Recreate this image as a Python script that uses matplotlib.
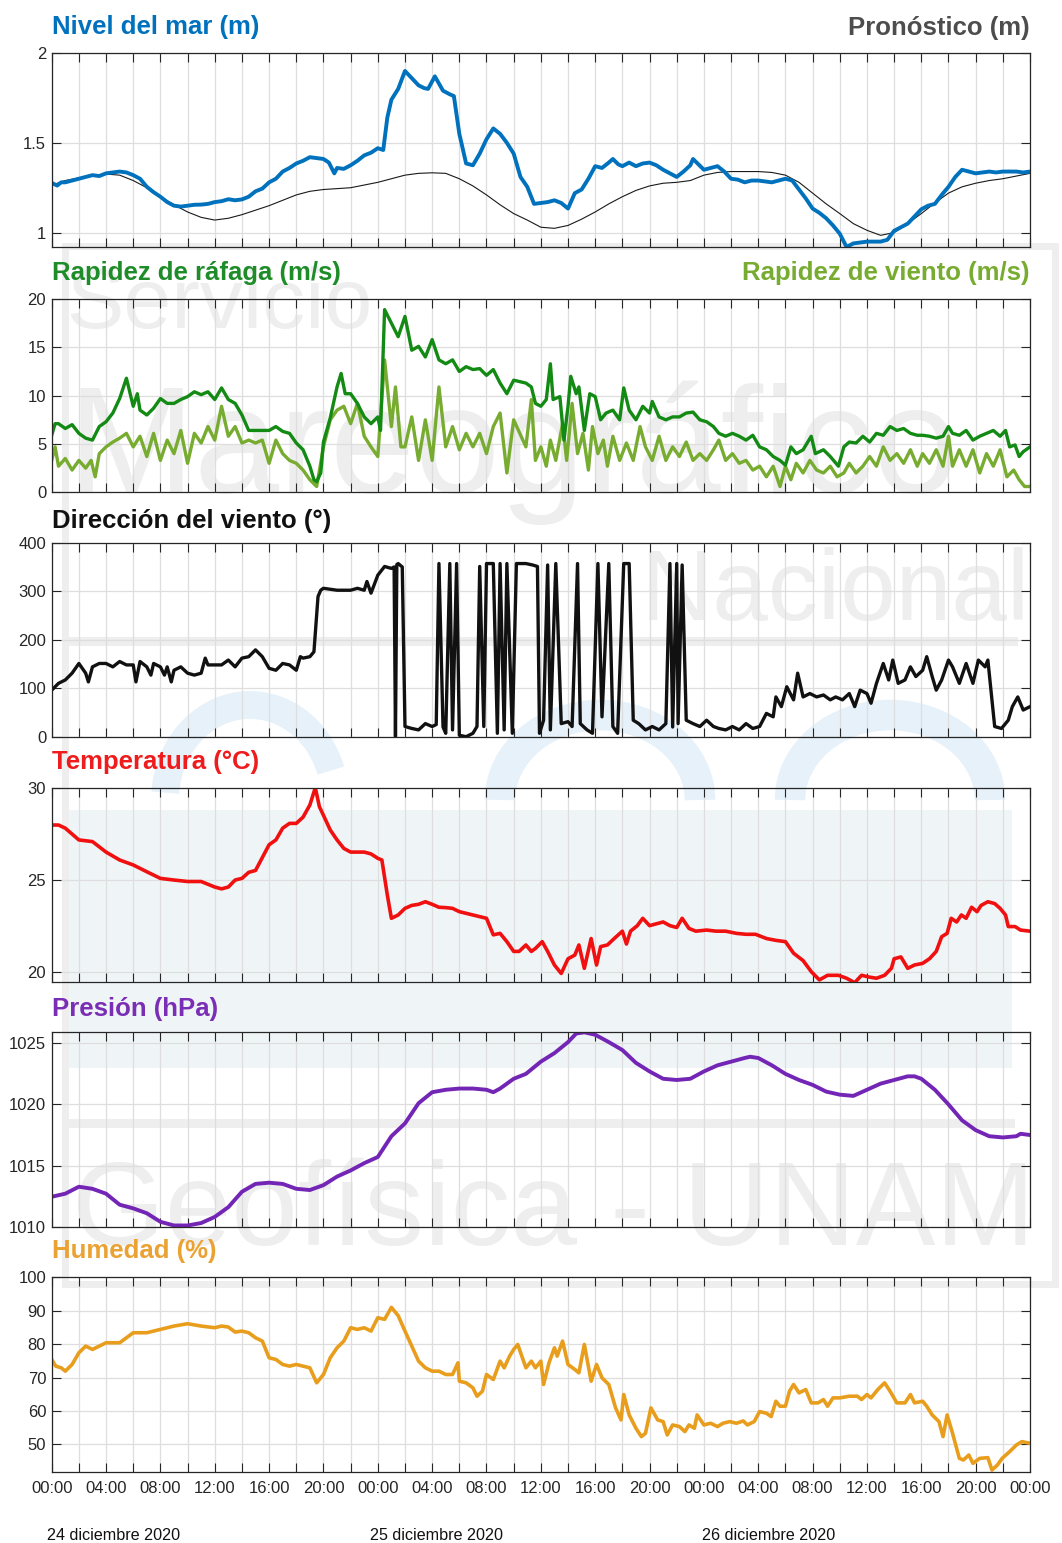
import matplotlib
matplotlib.use("Agg")
import matplotlib.pyplot as plt
import matplotlib.transforms as mtransforms
from matplotlib.patches import Rectangle, Arc

plt.rcParams['font.family'] = ['Liberation Sans', 'DejaVu Sans']

# hours since 24-dic-2020 00:00
nivel_t = [0, 0.4, 0.7, 1, 1.5, 2, 2.5, 3, 3.5, 4, 4.5, 5, 5.5, 6, 6.5, 7, 7.5, 8, 8.5, 9, 9.5, 10, 10.5, 11,
           11.5, 12, 12.5, 13, 13.5, 14, 14.5, 15, 15.5, 16, 16.5, 17, 17.5, 18, 18.5, 19, 19.5, 20, 20.4,
           20.8, 21, 21.5, 22, 22.5, 23, 23.5, 24, 24.4, 24.7, 25, 25.5, 26, 26.5, 27, 27.4, 27.7, 28.2, 28.8,
           29.3, 29.6, 30, 30.5, 31, 31.5, 32, 32.5, 33, 33.5, 34, 34.5, 35, 35.5, 36, 36.5, 37, 37.5, 38,
           38.5, 39, 39.5, 40, 40.5, 41, 41.3, 41.7, 42, 42.5, 43, 43.5, 44, 44.5, 45, 45.5, 46, 46.5, 47, 47.2,
           47.6, 48, 48.5, 49, 49.5, 50, 50.5, 51, 51.5, 52, 52.5, 53, 53.5, 54, 54.5, 55, 55.5, 56, 56.5, 57,
           57.5, 58, 58.5, 59, 59.5, 60, 60.5, 61, 61.5, 62, 62.5, 63, 63.5, 64, 64.5, 65, 65.5, 66, 66.5, 67,
           67.5, 68, 68.5, 69, 69.5, 70, 70.5, 71, 71.5, 72]
nivel_v = [1.277, 1.262, 1.28, 1.28, 1.29, 1.30, 1.31, 1.32, 1.315, 1.33, 1.335, 1.34, 1.335, 1.32, 1.30, 1.255,
           1.225, 1.20, 1.17, 1.15, 1.145, 1.15, 1.155, 1.156, 1.16, 1.17, 1.175, 1.186, 1.18, 1.185, 1.20,
           1.23, 1.245, 1.28, 1.30, 1.34, 1.36, 1.385, 1.40, 1.42, 1.415, 1.41, 1.39, 1.33, 1.36, 1.355, 1.375,
           1.40, 1.43, 1.445, 1.47, 1.46, 1.64, 1.74, 1.80, 1.90, 1.86, 1.82, 1.805, 1.80, 1.87, 1.79, 1.77,
           1.76, 1.55, 1.385, 1.375, 1.44, 1.52, 1.58, 1.55, 1.50, 1.44, 1.31, 1.255, 1.16, 1.165, 1.17, 1.18,
           1.165, 1.134, 1.22, 1.24, 1.30, 1.37, 1.36, 1.39, 1.41, 1.38, 1.37, 1.39, 1.37, 1.385, 1.39, 1.375,
           1.35, 1.33, 1.31, 1.34, 1.375, 1.41, 1.38, 1.35, 1.36, 1.37, 1.34, 1.30, 1.295, 1.28, 1.29, 1.29,
           1.285, 1.28, 1.29, 1.30, 1.29, 1.24, 1.19, 1.134, 1.11, 1.08, 1.04, 0.994, 0.92, 0.94, 0.945, 0.95,
           0.95, 0.95, 0.96, 1.01, 1.03, 1.05, 1.09, 1.13, 1.15, 1.16, 1.21, 1.255, 1.31, 1.35, 1.34, 1.33,
           1.335, 1.34, 1.335, 1.34, 1.34, 1.34, 1.335, 1.34]

pron_t = [0, 1, 2, 3, 4, 5, 6, 7, 8, 9, 10, 11, 12, 13, 14, 15, 16, 17, 18, 19, 20, 21, 22, 23, 24, 25, 26, 27,
          28, 29, 30, 31, 32, 33, 34, 35, 36, 37, 38, 39, 40, 41, 42, 43, 44, 45, 46, 47, 48, 49, 50, 51, 52,
          53, 54, 55, 56, 57, 58, 59, 60, 61, 62, 63, 64, 65, 66, 67, 68, 69, 70, 71, 72]
pron_v = [1.264, 1.29, 1.305, 1.32, 1.326, 1.32, 1.29, 1.25, 1.20, 1.155, 1.115, 1.085, 1.07, 1.08, 1.10, 1.125,
          1.15, 1.18, 1.21, 1.23, 1.24, 1.245, 1.25, 1.265, 1.28, 1.30, 1.32, 1.33, 1.333, 1.33, 1.30, 1.26,
          1.21, 1.155, 1.106, 1.07, 1.03, 1.024, 1.04, 1.075, 1.115, 1.16, 1.20, 1.235, 1.26, 1.275, 1.28, 1.29,
          1.32, 1.335, 1.34, 1.34, 1.34, 1.335, 1.32, 1.28, 1.22, 1.16, 1.106, 1.05, 1.013, 0.985, 1.0, 1.05,
          1.106, 1.165, 1.22, 1.255, 1.275, 1.29, 1.30, 1.315, 1.33]

rafaga_t = [0, 0.25, 0.5, 1, 1.5, 2, 2.5, 3, 3.5, 4, 4.5, 5, 5.5, 6, 6.3, 6.5, 7, 7.5, 8, 8.5, 9, 9.5, 10,
            10.5, 11, 11.5, 12, 12.5, 13, 13.5, 14, 14.5, 15, 16, 16.5, 17, 17.5, 18, 18.5, 19, 19.3, 19.5,
            19.8, 20, 20.5, 21, 21.3, 21.6, 22, 22.5, 23, 23.5, 24, 24.2, 24.5, 25, 25.5, 26, 26.5, 27, 27.5,
            28, 28.5, 29, 29.5, 30, 30.5, 31, 31.5, 32, 32.5, 33, 33.5, 34, 34.9, 35.3, 35.6, 36, 36.4, 36.7,
            36.9, 37.4, 37.7, 38, 38.2, 38.6, 38.8, 39.2, 39.6, 40, 40.4, 40.8, 41.3, 41.8, 42.1, 42.5, 43,
            43.5, 44, 44.2, 44.7, 45.2, 45.7, 46.2, 46.7, 47.2, 47.7, 48.2, 48.7, 49.1, 49.6, 50.1, 50.6, 51.1,
            51.6, 52.1, 52.6, 53.1, 53.6, 54, 54.4, 54.8, 55.3, 55.9, 56.2, 56.8, 57.3, 57.9, 58.3, 58.7, 59.2,
            59.7, 60.2, 60.7, 61.2, 61.7, 62.2, 62.7, 63.2, 63.7, 64.1, 64.6, 65.1, 65.6, 66, 66.3, 66.8, 67.3,
            67.8, 68.3, 68.8, 69.3, 69.8, 70.2, 70.5, 70.9, 71.2, 71.5, 72]
rafaga_v = [5.9, 7.1, 7.1, 6.6, 7.0, 6.1, 5.6, 5.4, 6.8, 7.3, 8.2, 9.7, 11.8, 8.9, 10.2, 8.5, 8.0, 8.7, 9.7,
            9.2, 9.2, 9.6, 9.9, 10.4, 10.1, 10.4, 9.6, 10.8, 9.6, 9.2, 8.0, 6.4, 6.4, 6.4, 6.8, 6.3, 6.1, 5.1,
            4.4, 2.7, 1.3, 1.1, 2.0, 5.2, 7.7, 10.9, 12.3, 10.2, 10.2, 9.2, 7.8, 7.1, 7.8, 6.4, 18.9, 17.5, 16.1,
            18.2, 14.7, 15.1, 14.0, 15.8, 13.7, 13.3, 13.7, 12.5, 13.0, 12.7, 12.8, 12.1, 12.7, 11.3, 10.2, 11.6,
            11.3, 10.9, 9.2, 8.9, 9.6, 13.3, 9.6, 9.9, 5.4, 8.9, 12.0, 10.2, 10.9, 6.4, 10.2, 9.9, 7.5, 8.2, 8.5,
            7.5, 10.8, 8.5, 7.5, 8.9, 8.2, 9.4, 7.8, 7.5, 7.8, 7.8, 8.2, 8.3, 7.5, 7.3, 6.8, 6.1, 5.8, 6.1, 5.8,
            5.4, 5.9, 4.7, 4.4, 3.7, 3.3, 2.8, 4.7, 4.0, 4.4, 5.8, 4.0, 4.4, 3.7, 2.7, 4.7, 5.2, 5.1, 5.8, 5.2,
            6.1, 5.9, 6.8, 6.4, 6.6, 6.1, 5.9, 5.9, 5.8, 5.6, 5.8, 6.8, 6.1, 5.9, 6.4, 5.4, 5.8, 6.1, 6.4, 5.8,
            6.4, 4.7, 4.9, 3.7, 4.2, 4.7]

viento_t = [0, 0.25, 0.5, 1, 1.5, 2, 2.5, 2.9, 3.2, 3.5, 4, 4.5, 5, 5.5, 6, 6.5, 7, 7.5, 8, 8.5, 9, 9.5, 10,
            10.5, 11, 11.5, 12, 12.5, 13, 13.5, 14, 14.5, 15, 15.5, 16, 16.5, 17, 17.5, 18, 18.5, 19, 19.5, 20,
            20.5, 21, 21.5, 22, 22.5, 23, 23.5, 24, 24.5, 25, 25.3, 25.7, 26, 26.5, 27, 27.5, 28, 28.5, 29,
            29.5, 30, 30.5, 31, 31.5, 32, 32.5, 33, 33.5, 34, 34.9, 35.3, 35.6, 36, 36.4, 36.7, 37.1, 37.6,
            37.9, 38.3, 38.7, 39.1, 39.5, 39.8, 40.2, 40.6, 40.9, 41.3, 41.8, 42.3, 42.8, 43.3, 43.7, 44.2,
            44.7, 45.2, 45.7, 46.2, 46.7, 47.2, 47.7, 48.2, 48.7, 49.1, 49.6, 50.1, 50.6, 51.1, 51.6, 52.1,
            52.6, 53.1, 53.6, 54, 54.4, 54.8, 55.3, 55.8, 56.3, 56.8, 57.3, 57.8, 58.3, 58.7, 59.2, 59.7,
            60.2, 60.7, 61.2, 61.7, 62.2, 62.7, 63.2, 63.7, 64.1, 64.6, 65.1, 65.6, 66, 66.3, 66.8, 67.3, 67.8,
            68.3, 68.8, 69.3, 69.8, 70.3, 70.8, 71.2, 71.6, 72]
viento_v = [3.3, 4.7, 2.7, 3.5, 2.3, 3.3, 2.5, 3.3, 1.6, 4.0, 4.7, 5.2, 5.6, 6.1, 4.7, 5.8, 3.7, 6.1, 3.3, 5.4,
            4.0, 6.4, 3.0, 6.1, 5.1, 6.8, 5.4, 8.9, 5.8, 6.8, 5.1, 5.4, 5.1, 5.4, 3.0, 5.4, 4.0, 3.3, 3.0, 2.3,
            1.3, 0.6, 4.7, 7.5, 8.5, 8.9, 7.1, 9.2, 5.8, 4.7, 3.7, 13.7, 6.8, 10.9, 4.7, 4.7, 7.8, 3.3, 7.5, 3.3,
            10.9, 4.7, 6.8, 4.4, 6.1, 4.7, 6.1, 4.0, 6.8, 8.2, 2.0, 7.5, 4.7, 9.6, 3.3, 4.7, 2.7, 5.4, 3.3, 7.1,
            3.3, 9.2, 4.0, 6.1, 2.3, 6.8, 4.0, 5.4, 2.7, 5.8, 3.3, 5.1, 3.3, 6.8, 4.7, 3.3, 5.8, 3.3, 4.7, 3.7,
            5.2, 3.3, 4.0, 3.3, 4.4, 5.4, 3.3, 4.0, 3.0, 3.3, 2.3, 2.7, 1.6, 2.7, 0.6, 2.7, 1.3, 3.0, 2.0, 3.3,
            2.3, 2.0, 2.7, 1.6, 2.0, 3.0, 2.0, 2.7, 3.7, 2.7, 4.7, 3.3, 4.0, 3.0, 4.4, 2.7, 4.0, 3.0, 4.4, 2.7,
            5.8, 2.7, 4.4, 2.7, 4.4, 2.0, 4.0, 2.7, 4.4, 1.6, 2.3, 1.3, 0.6, 0.6]

dir_t = [0, 0.5, 1, 1.5, 2, 2.5, 2.7, 3, 3.5, 4, 4.5, 5, 5.5, 6, 6.2, 6.5, 7, 7.3, 7.5, 8, 8.3, 8.5, 8.8, 9,
         9.5, 10, 10.5, 11, 11.3, 11.5, 12, 12.5, 13, 13.5, 14, 14.5, 15, 15.5, 16, 16.5, 17, 17.5, 18, 18.3,
         18.5, 19, 19.3, 19.6, 19.8, 20, 21, 22, 22.5, 23, 23.2, 23.5, 24, 24.5, 25, 25.2, 25.3, 25.4, 25.5,
         25.8, 26, 26.5, 27, 27.5, 28, 28.3, 28.5, 28.8, 29, 29.3, 29.5, 29.8, 30, 30.5, 31, 31.3, 31.5, 31.8,
         32, 32.5, 32.8, 33, 33.3, 33.5, 33.9, 34.2, 34.9, 35.4, 35.75, 35.9, 36.2, 36.5, 36.7, 37.1, 37.5,
         38, 38.3, 38.7, 38.9, 39.4, 39.8, 40.2, 40.5, 41, 41.3, 41.65, 42.1, 42.5, 42.8, 43.2, 43.7, 44.2,
         44.7, 45.2, 45.5, 45.7, 46.0, 46.1, 46.4, 46.7, 47.2, 47.7, 48.2, 48.7, 49.1, 49.6, 50.1, 50.6, 51.1,
         51.6, 52.1, 52.6, 53.1, 53.3, 53.7, 54.1, 54.6, 54.9, 55.3, 55.8, 56.3, 56.8, 57.3, 57.7, 58.2, 58.7,
         59.1, 59.5, 60, 60.3, 60.7, 61.2, 61.6, 61.9, 62.3, 62.8, 63.2, 63.6, 64.1, 64.4, 64.8, 65.1, 65.5,
         66, 66.3, 66.8, 67.3, 67.8, 68.2, 68.7, 68.9, 69.4, 69.9, 70.4, 70.7, 71.1, 71.5, 72]
dir_v = [96, 110, 117, 131, 151, 131, 113, 144, 151, 151, 144, 155, 148, 148, 113, 155, 144, 127, 151, 144, 127,
         144, 113, 137, 144, 131, 127, 131, 162, 148, 148, 148, 158, 144, 162, 165, 179, 165, 141, 137, 151, 148,
         137, 165, 162, 165, 175, 289, 302, 306, 302, 302, 306, 302, 320, 296, 333, 351, 347, 350, 0, 355, 357,
         350, 21, 17, 14, 27, 21, 25, 357, 20, 7, 357, 14, 357, 3, 0, 7, 21, 351, 21, 357, 357, 7, 357, 14, 357,
         7, 357, 357, 354, 351, 7, 34, 354, 14, 357, 27, 31, 21, 357, 27, 14, 7, 357, 41, 357, 21, 7, 357, 357,
         34, 27, 14, 21, 14, 27, 357, 20, 357, 27, 354, 34, 27, 21, 34, 21, 17, 14, 21, 14, 27, 17, 21, 48, 41,
         82, 62, 103, 76, 131, 82, 89, 82, 86, 76, 82, 76, 89, 62, 96, 89, 69, 110, 151, 117, 158, 110, 117, 144,
         124, 137, 165, 124, 96, 117, 158, 144, 110, 151, 110, 158, 144, 158, 21, 17, 34, 62, 82, 55, 62]

temp_t = [0, 0.5, 1, 2, 3, 4, 5, 6, 7, 8, 9, 10, 11, 12, 12.5, 13, 13.5, 14, 14.5, 15, 15.5, 16, 16.5, 17,
          17.5, 18, 18.5, 19, 19.4, 19.7, 20, 20.5, 21, 21.5, 22, 22.5, 23, 23.5, 24, 24.3, 24.7, 25, 25.5,
          26, 26.5, 27, 27.5, 28, 28.5, 29, 29.5, 30, 30.5, 31, 31.5, 32, 32.5, 33, 33.5, 34, 34.4, 34.9,
          35.3, 35.6, 36.1, 36.5, 37, 37.5, 38, 38.5, 38.8, 39.2, 39.7, 40.1, 40.4, 40.9, 41.4, 42, 42.3,
          42.6, 43.1, 43.5, 44, 44.5, 45, 45.5, 46, 46.4, 46.9, 47.4, 48.2, 48.9, 49.6, 50.4, 51.1, 51.8,
          52.6, 53.3, 54, 54.6, 55.3, 55.9, 56.5, 57.1, 57.9, 58.5, 59.1, 59.6, 60.2, 60.7, 61.3, 61.8, 62,
          62.5, 63, 63.5, 64.1, 64.6, 65.1, 65.5, 65.9, 66.2, 66.6, 66.95, 67.3, 67.7, 68.1, 68.4, 68.9,
          69.4, 69.8, 70.2, 70.4, 70.9, 71.3, 72]
temp_v = [27.97, 27.97, 27.8, 27.16, 27.07, 26.5, 26.07, 25.8, 25.43, 25.07, 24.98, 24.9, 24.9, 24.6, 24.5, 24.6,
          24.98, 25.07, 25.4, 25.5, 26.2, 26.9, 27.16, 27.8, 28.06, 28.06, 28.4, 29.06, 30.0, 28.97, 28.5, 27.7,
          27.16, 26.7, 26.5, 26.5, 26.5, 26.4, 26.16, 26.07, 24.17, 22.9, 23.08, 23.44, 23.6, 23.66, 23.8, 23.66,
          23.5, 23.48, 23.44, 23.26, 23.17, 23.08, 22.99, 22.9, 22.0, 22.08, 21.63, 21.1, 21.1, 21.45, 21.1,
          21.26, 21.63, 21.1, 20.36, 19.9, 20.7, 20.9, 21.45, 20.18, 21.8, 20.36, 21.36, 21.45, 21.8, 22.2, 21.5,
          22.2, 22.5, 22.9, 22.5, 22.6, 22.7, 22.5, 22.4, 22.9, 22.35, 22.2, 22.26, 22.2, 22.2, 22.08, 22.03,
          22.03, 21.8, 21.7, 21.63, 21.0, 20.6, 20.0, 19.55, 19.8, 19.8, 19.64, 19.4, 19.8, 19.7, 19.64, 19.8,
          20.18, 20.7, 20.8, 20.18, 20.36, 20.45, 20.7, 21.1, 21.9, 22.08, 22.9, 22.7, 23.08, 22.9, 23.5, 23.26,
          23.6, 23.8, 23.7, 23.44, 23.08, 22.45, 22.45, 22.26, 22.2]

pres_t = [0, 1, 2, 3, 4, 5, 6, 7, 8, 9, 10, 11, 12, 13, 14, 15, 16, 17, 18, 19, 20, 21, 22, 23, 24, 25, 26,
          27, 28, 29, 30, 31, 32, 32.5, 33, 34, 34.9, 36, 37, 38, 38.6, 39.2, 40, 41, 42, 43, 44, 45, 46, 47,
          48, 49, 50, 51, 51.4, 52, 53, 54, 55, 56, 57, 58, 59, 60, 61, 62, 63, 63.5, 64, 65, 66, 67, 68, 69,
          70, 71, 71.3, 72]
pres_v = [1012.45, 1012.7, 1013.27, 1013.1, 1012.7, 1011.8, 1011.5, 1011.1, 1010.4, 1010.1, 1010.1, 1010.3,
          1010.8, 1011.6, 1012.86, 1013.5, 1013.6, 1013.5, 1013.1, 1013.0, 1013.4, 1014.1, 1014.6, 1015.2,
          1015.7, 1017.4, 1018.45, 1020.1, 1021.0, 1021.2, 1021.3, 1021.3, 1021.2, 1021.0, 1021.3, 1022.1,
          1022.5, 1023.5, 1024.2, 1025.1, 1025.8, 1025.9, 1025.7, 1025.1, 1024.45, 1023.4, 1022.7, 1022.1,
          1022.0, 1022.1, 1022.7, 1023.2, 1023.5, 1023.8, 1023.9, 1023.8, 1023.2, 1022.5, 1022.0, 1021.6,
          1021.05, 1020.8, 1020.7, 1021.2, 1021.7, 1022.0, 1022.3, 1022.3, 1022.1, 1021.2, 1020.0, 1018.7,
          1017.9, 1017.4, 1017.3, 1017.4, 1017.6, 1017.5]

hum_t = [0, 0.3, 0.7, 1, 1.5, 2, 2.5, 3, 3.5, 4, 5, 5.5, 6, 7, 8, 9, 10, 11, 12, 12.5, 13, 13.5, 14, 14.5, 15,
         15.5, 16, 16.5, 17, 17.5, 18, 18.5, 19, 19.5, 20, 20.5, 21, 21.5, 22, 22.5, 23, 23.5, 24, 24.5, 25,
         25.5, 26, 26.5, 27, 27.5, 28, 28.5, 29, 29.5, 29.9, 30, 30.5, 31, 31.3, 31.7, 32, 32.5, 33, 33.3, 33.7,
         34, 34.3, 34.9, 35.3, 35.6, 36, 36.2, 36.6, 37, 37.2, 37.6, 38, 38.5, 38.8, 39.2, 39.7, 40.1, 40.5,
         41, 41.5, 41.9, 42.1, 42.5, 43, 43.4, 43.7, 44.1, 44.6, 45, 45.3, 45.7, 46.2, 46.6, 46.9, 47.3, 47.5,
         48, 48.5, 49, 49.4, 49.9, 50.4, 50.9, 51.2, 51.7, 52.1, 52.6, 52.95, 53.3, 53.6, 54, 54.3, 54.6, 55,
         55.5, 55.9, 56.4, 56.8, 57.1, 57.5, 58, 58.7, 59.3, 59.6, 60, 60.3, 60.8, 61.3, 61.7, 62.2, 62.8,
         63.2, 63.5, 64.1, 64.4, 64.8, 65.3, 65.6, 65.9, 66.3, 66.8, 67.1, 67.5, 67.8, 68.3, 68.9, 69.2, 69.6,
         69.95, 70.5, 71, 71.4, 72]
hum_v = [75.4, 73.4, 72.9, 71.9, 73.9, 77.4, 79.4, 78.4, 79.4, 80.4, 80.4, 81.9, 83.4, 83.4, 84.4, 85.4, 86.1,
         85.4, 84.9, 85.4, 85.1, 83.6, 83.9, 83.4, 81.9, 80.9, 75.9, 75.4, 73.9, 73.4, 73.9, 73.4, 72.9, 68.4,
         70.9, 75.9, 78.9, 80.9, 84.9, 84.4, 84.9, 83.9, 87.9, 87.4, 91.0, 88.5, 83.9, 79.4, 74.9, 72.9, 71.9,
         71.9, 70.9, 70.9, 74.4, 68.9, 68.4, 66.9, 64.4, 65.9, 70.9, 69.4, 74.9, 72.9, 76.4, 78.4, 79.9, 72.9,
         74.9, 72.9, 74.9, 67.9, 74.4, 78.9, 76.4, 80.9, 73.9, 72.4, 71.4, 79.9, 68.9, 73.9, 69.9, 67.9, 60.9,
         57.3, 64.9, 58.8, 54.8, 52.3, 53.3, 60.9, 57.3, 56.8, 52.8, 55.8, 55.3, 53.8, 55.8, 54.8, 58.8, 55.8,
         56.3, 55.3, 56.3, 56.8, 56.3, 57.0, 55.8, 56.8, 59.8, 59.3, 58.3, 62.9, 61.4, 61.4, 65.9, 67.9, 65.4,
         66.4, 62.4, 62.4, 63.4, 61.4, 63.9, 63.9, 64.4, 64.4, 63.4, 64.9, 63.9, 66.4, 68.4, 65.9, 62.4, 62.4,
         64.9, 62.4, 62.9, 61.4, 58.8, 56.8, 52.3, 58.8, 53.3, 45.8, 45.3, 46.8, 44.3, 45.8, 46.0, 42.3, 43.8,
         45.8, 47.8, 49.8, 50.8, 50.3]

day_labels = ['24 diciembre 2020', '25 diciembre 2020', '26 diciembre 2020']
day_label_pos = [-0.35, 23.45, 47.85]

W, H = 1062, 1543
fig = plt.figure(figsize=(W / 100, H / 100), dpi=100)

# background watermark, drawn in pixel coordinates (y grows downwards)
bg = fig.add_axes([0, 0, 1, 1], zorder=-1)
bg.set_xlim(0, W)
bg.set_ylim(H, 0)
bg.axis('off')
wm = '#eeeeee'
wave = '#e6f1f9'
bg.add_patch(Rectangle((67, 810), 945, 258, color='#eff4f7', lw=0))
bg.add_patch(Arc((250, 800), 170, 190, theta1=185, theta2=340, color=wave, lw=20))
bg.add_patch(Arc((600, 800), 200, 170, theta1=180, theta2=360, color=wave, lw=22))
bg.add_patch(Arc((890, 800), 200, 170, theta1=180, theta2=360, color=wave, lw=22))
bg.add_patch(Rectangle((63, 637), 955, 9, color=wm, lw=0))
bg.add_patch(Rectangle((63, 1119), 952, 9, color=wm, lw=0))
bg.add_patch(Rectangle((65, 246), 990, 1038, fill=False, ec=wm, lw=5))
bg.text(66, 328, 'Servicio', fontsize=62, color=wm, va='baseline')
bg.text(68, 493, 'Mareográfico', fontsize=110, color=wm, va='baseline')
bg.text(1030, 620, 'Nacional', fontsize=72, color=wm, va='baseline', ha='right')
bg.text(72, 1245, 'Geofísica - UNAM', fontsize=86, color=wm, va='baseline')

left, right = 51.7, 1030
boxes = [(53, 247), (299, 492.3), (542.7, 736.7), (787.7, 982.3), (1031.7, 1226.7), (1277.3, 1471.7)]
ylims = [(0.92, 2.0), (0, 20), (0, 400), (19.42, 30), (1010, 1025.95), (41.8, 100)]
yticks = [[1, 1.5, 2], [0, 5, 10, 15, 20], [0, 100, 200, 300, 400], [20, 25, 30],
          [1010, 1015, 1020, 1025], [50, 60, 70, 80, 90, 100]]

xt = list(range(0, 73, 2))
xlab = [f'{h % 24:02d}:00' if h % 4 == 0 else '' for h in xt]

axes = []
for i, (top, bot) in enumerate(boxes):
    ax = fig.add_axes([left / W, 1 - bot / H, (right - left) / W, (bot - top) / H])
    ax.set_facecolor('none')
    ax.set_xlim(0, 72)
    ax.set_ylim(*ylims[i])
    ax.set_xticks(xt)
    ax.set_yticks(yticks[i])
    ax.set_yticklabels([f'{v:g}' for v in yticks[i]])
    if i == len(boxes) - 1:
        ax.set_xticklabels(xlab)
    else:
        ax.set_xticklabels([])
    ax.tick_params(direction='in', top=True, right=True, length=6.5, width=0.8,
                   labelsize=12, colors='#262626', pad=4)
    ax.tick_params(axis='x', pad=7)
    ax.grid(True, color='#dedede', lw=0.9)
    ax.set_axisbelow(True)
    for s in ax.spines.values():
        s.set_color('#262626')
        s.set_linewidth(0.9)
    axes.append(ax)

ax1, ax2, ax3, ax4, ax5, ax6 = axes
ax1.plot(pron_t, pron_v, color='#1a1a1a', lw=0.8)
ax1.plot(nivel_t, nivel_v, color='#0072BD', lw=2.8)
ax2.plot(viento_t, viento_v, color='#77AC30', lw=2.4)
ax2.plot(rafaga_t, rafaga_v, color='#138a13', lw=2.4)
ax3.plot(dir_t, dir_v, color='#111111', lw=2.4)
ax4.plot(temp_t, temp_v, color='#f01010', lw=2.6)
ax5.plot(pres_t, pres_v, color='#7325b5', lw=2.8)
ax6.plot(hum_t, hum_v, color='#E89E1C', lw=2.6)

def title(y, s, color, x=left, ha='left'):
    fig.text(x / W, 1 - y / H, s, color=color, fontsize=18.5, fontweight='bold', ha=ha, va='baseline')

title(34, 'Nivel del mar (m)', '#0072BD')
title(35, 'Pronóstico (m)', '#4d4d4d', x=right, ha='right')
title(280, 'Rapidez de ráfaga (m/s)', '#1e8c28')
title(280, 'Rapidez de viento (m/s)', '#77AC30', x=right, ha='right')
title(528, 'Dirección del viento (°)', '#111111')
title(769, 'Temperatura (°C)', '#ee1c1c')
title(1016, 'Presión (hPa)', '#7a2db5')
title(1258, 'Humedad (%)', '#EAA233')

trans = mtransforms.blended_transform_factory(ax6.transData, ax6.transAxes)
for pos, lab in zip(day_label_pos, day_labels):
    ax6.text(pos, -0.351, lab, transform=trans, fontsize=11.6, color='#111111', va='baseline')

fig.savefig('out.png', dpi=100)
